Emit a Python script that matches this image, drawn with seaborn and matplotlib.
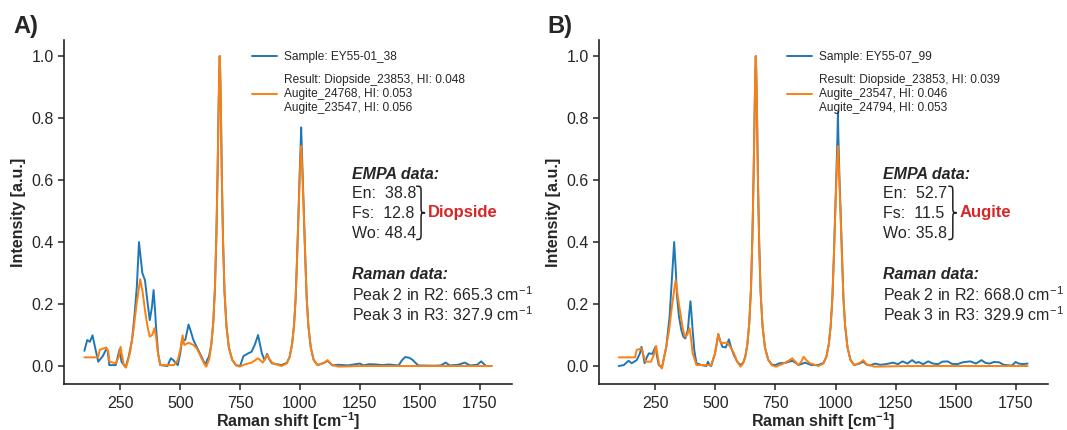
import numpy as np
import pandas as pd
import matplotlib
matplotlib.use("Agg")
import matplotlib.pyplot as plt
from matplotlib.path import Path
from matplotlib.patches import PathPatch
import seaborn as sns

# ---------------- data ----------------
A_SAMPLE_X = [100, 112, 123, 134, 147, 158, 177, 191, 197, 204, 231, 247, 255, 272, 285, 299, 310, 319, 328, 335,
              342, 353, 363, 373, 382, 389, 395, 400, 408, 417, 447, 455, 461, 470, 477, 490, 500, 508, 521, 535,
              545, 555, 570, 582, 595, 605, 613, 620,
              630, 638, 645, 651, 656, 660, 663, 665, 667, 670, 674, 679, 685, 693, 703, 717, 733,
              750, 764, 784, 798, 812, 825, 833, 841, 852, 863, 873, 883, 923, 945,
              957, 967, 975, 982, 988, 994, 999, 1003, 1005, 1007, 1011, 1016, 1022, 1028, 1035, 1045, 1057, 1073,
              1100, 1115, 1135, 1160, 1200, 1250, 1265,
              1290, 1317, 1345, 1371, 1412, 1425, 1439, 1455, 1470, 1493, 1560, 1588, 1608, 1625, 1660, 1688, 1709,
              1740, 1756, 1777, 1800]
A_SAMPLE_Y = [0.049, 0.084, 0.078, 0.099, 0.052, 0.014, 0.032, 0.054, 0.052, 0.003, 0.003, 0.054, 0.014, -0.004,
              0.03, 0.084, 0.17, 0.256, 0.40, 0.35, 0.30, 0.277, 0.21, 0.148, 0.19, 0.245, 0.18, 0.116, 0.04, 0.003,
              0.0, 0.015, 0.025, 0.02, 0.014, 0.003, 0.04, 0.084, 0.084, 0.134, 0.11, 0.084, 0.06, 0.041, 0.02, 0.004,
              0.02, 0.03,
              0.07, 0.14, 0.25, 0.42, 0.62, 0.82, 0.95, 1.0, 0.95, 0.82, 0.6, 0.4, 0.24, 0.13, 0.06, 0.02, 0.003,
              0.0, 0.032, 0.041, 0.046, 0.07, 0.10, 0.07, 0.041, 0.019, 0.039, 0.02, 0.009, 0.003, 0.01,
              0.03, 0.07, 0.13, 0.22, 0.35, 0.5, 0.63, 0.72, 0.77, 0.72, 0.62, 0.5, 0.35, 0.22, 0.13, 0.06, 0.02, 0.003,
              0.01, 0.017, 0.002, 0.004, 0.002, 0.008, 0.002,
              0.006, 0.005, 0.003, 0.005, 0.002, 0.018, 0.029, 0.027, 0.02, 0.002, 0.001, 0.002, 0.011, 0.002,
              0.004, 0.011, 0.002, 0.004, 0.015, 0.0, 0.0]

A_REF_X = [100, 157, 164, 191, 200, 205, 231, 244, 251, 258, 265, 274, 290, 305, 318, 333, 343, 353, 363, 373, 383,
           393, 400, 407, 417, 474, 490, 500, 510, 517, 535, 555, 569, 580, 589, 600, 609, 616, 622,
           630, 638, 645, 651, 656, 660, 663, 665, 667, 670, 674, 679, 685, 693, 703, 717, 733,
           748, 770, 798, 825, 845, 863, 875, 886, 923, 945,
           957, 967, 975, 982, 988, 994, 999, 1003, 1005, 1007, 1011, 1016, 1022, 1028, 1035, 1045, 1057, 1073,
           1100, 1115, 1135, 1162, 1250, 1400, 1600, 1800]
A_REF_Y = [0.028, 0.028, 0.052, 0.06, 0.046, 0.014, 0.009, 0.03, 0.062, 0.03, 0.003, -0.005, 0.04, 0.116, 0.2, 0.28,
           0.24, 0.18, 0.13, 0.095, 0.1, 0.122, 0.09, 0.041, 0.003, 0.003, 0.019, 0.05, 0.099, 0.068, 0.075, 0.068,
           0.057, 0.04, 0.025, 0.008, -0.002, 0.012, 0.025,
           0.07, 0.14, 0.25, 0.42, 0.62, 0.82, 0.95, 1.0, 0.95, 0.82, 0.6, 0.4, 0.24, 0.13, 0.06, 0.02, 0.002,
           -0.002, 0.005, 0.011, 0.025, 0.011, 0.035, 0.02, 0.009, 0.0, 0.008,
           0.03, 0.07, 0.13, 0.22, 0.35, 0.49, 0.61, 0.68, 0.71, 0.68, 0.6, 0.49, 0.35, 0.22, 0.13, 0.06, 0.02, 0.003,
           0.01, 0.019, 0.003, -0.002, 0.0, 0.0, 0.0, 0.0]

B_SAMPLE_X = [97, 118, 138, 151, 172, 185, 192, 198, 205, 215, 223, 237, 250, 257, 264, 277, 295, 309, 320, 328, 334,
              340, 348, 358, 366, 374, 385, 391, 396, 400, 405, 412, 421, 442, 462, 469, 475, 482, 498, 512, 520,
              529, 543, 556, 565, 577, 590, 604, 615, 624,
              633, 641, 648, 654, 659, 663, 666, 668, 670, 673, 677, 682, 688, 696, 706, 720, 736,
              750, 766, 790, 820, 835, 846, 873, 900, 927, 950,
              962, 972, 980, 987, 993, 999, 1004, 1008, 1010, 1012, 1016, 1021, 1027, 1033, 1040, 1050, 1062, 1078,
              1100, 1116, 1130, 1144, 1165, 1185, 1210, 1239, 1260, 1279,
              1300, 1319, 1335, 1346, 1365, 1386, 1405, 1427, 1445, 1467, 1485, 1507, 1530, 1561, 1585, 1608, 1625,
              1642, 1660, 1682, 1700, 1723, 1736, 1750, 1763, 1780, 1800]
B_SAMPLE_Y = [0.0, 0.003, 0.017, 0.009, 0.019, 0.04, 0.062, 0.04, 0.009, 0.03, 0.041, 0.039, 0.062, 0.03, 0.003,
              -0.004, 0.06, 0.16, 0.3, 0.40, 0.32, 0.224, 0.16, 0.116, 0.095, 0.089, 0.116, 0.17, 0.209, 0.17, 0.116,
              0.05, 0.009, 0.003, 0.0, 0.014, 0.003, 0.0, 0.04, 0.103, 0.08, 0.062, 0.06, 0.086, 0.06, 0.035, 0.015,
              0.003, 0.01, 0.03,
              0.07, 0.14, 0.25, 0.42, 0.62, 0.82, 0.95, 1.0, 0.95, 0.82, 0.6, 0.4, 0.24, 0.13, 0.06, 0.02, 0.004,
              0.003, 0.009, 0.01, 0.017, 0.01, 0.003, 0.011, 0.003, 0.003, 0.01,
              0.03, 0.07, 0.13, 0.22, 0.35, 0.5, 0.63, 0.74, 0.82, 0.74, 0.62, 0.5, 0.35, 0.22, 0.13, 0.06, 0.02, 0.003,
              0.008, 0.014, 0.004, 0.002, 0.008, 0.004, 0.006, 0.011, 0.006, 0.015,
              0.008, 0.019, 0.01, 0.013, 0.006, 0.015, 0.008, 0.006, 0.014, 0.015, 0.007, 0.006, 0.012,
              0.015, 0.008, 0.019, 0.01, 0.008, 0.013, 0.012, 0.004, 0.002, 0.002, 0.013, 0.008, 0.006, 0.008]

B_REF_X = [97, 165, 172, 192, 200, 209, 232, 245, 253, 260, 266, 277, 292, 307, 320, 334, 344, 354, 363, 372, 382,
           392, 398, 405, 421, 482, 498, 512, 518, 525, 538, 550, 563, 577, 590, 604, 615, 624,
           633, 641, 648, 654, 659, 663, 666, 668, 670, 673, 677, 682, 688, 696, 706, 720, 736,
           752, 775, 800, 820, 835, 846, 858, 867, 880, 894, 929, 950,
           962, 972, 980, 987, 993, 999, 1004, 1008, 1010, 1012, 1016, 1021, 1027, 1033, 1040, 1050, 1062, 1078,
           1100, 1116, 1130, 1143, 1160, 1300, 1500, 1800]
B_REF_Y = [0.028, 0.028, 0.052, 0.057, 0.035, 0.014, 0.014, 0.04, 0.065, 0.03, 0.003, -0.008, 0.05, 0.116, 0.2,
           0.277, 0.22, 0.17, 0.125, 0.095, 0.1, 0.122, 0.09, 0.041, 0.003, 0.003, 0.04, 0.103, 0.085, 0.073, 0.075,
           0.075, 0.06, 0.041, 0.015, -0.002, 0.008, 0.028,
           0.07, 0.14, 0.25, 0.42, 0.62, 0.82, 0.95, 1.0, 0.95, 0.82, 0.6, 0.4, 0.24, 0.13, 0.06, 0.02, 0.002,
           -0.002, 0.005, 0.015, 0.025, 0.012, 0.003, 0.015, 0.03, 0.018, 0.009, 0.0, 0.008,
           0.03, 0.07, 0.13, 0.22, 0.35, 0.49, 0.61, 0.68, 0.71, 0.68, 0.6, 0.49, 0.35, 0.22, 0.13, 0.06, 0.02, 0.003,
           0.01, 0.019, 0.005, 0.003, -0.002, 0.0, 0.0, 0.0]

X_TICKS = [250, 500, 750, 1000, 1250, 1500, 1750]
Y_TICKS = [0.0, 0.2, 0.4, 0.6, 0.8, 1.0]

PANELS = ["A)", "B)"]
SAMPLE_LABELS = ["Sample: EY55-01_38", "Sample: EY55-07_99"]
RESULT_LABELS = ["Result: Diopside_23853, HI: 0.048\nAugite_24768, HI: 0.053\nAugite_23547, HI: 0.056",
                 "Result: Diopside_23853, HI: 0.039\nAugite_23547, HI: 0.046\nAugite_24794, HI: 0.053"]
EMPA_EN = ["38.8", "52.7"]
EMPA_FS = ["12.8", "11.5"]
EMPA_WO = ["48.4", "35.8"]
CLASSES = ["Diopside", "Augite"]
PEAK2 = ["665.3", "668.0"]
PEAK3 = ["327.9", "329.9"]

# ---------------- styling ----------------
sns.set_theme(style="ticks")
plt.rcParams["font.family"] = ["Liberation Sans", "DejaVu Sans"]
plt.rcParams["mathtext.fontset"] = "custom"
plt.rcParams["mathtext.rm"] = "Liberation Sans"
plt.rcParams["mathtext.it"] = "Liberation Sans:italic"
plt.rcParams["mathtext.bf"] = "Liberation Sans:bold"

BLUE = "#1f77b4"
ORANGE = "#ff7f0e"
RED = "#d62728"

fig = plt.figure(figsize=(10.67, 4.30), dpi=100)
axA = fig.add_axes([64 / 1067, 46 / 430, 448 / 1067, 344 / 430])
axB = fig.add_axes([599 / 1067, 46 / 430, 449 / 1067, 344 / 430])

data = [(A_SAMPLE_X, A_SAMPLE_Y, A_REF_X, A_REF_Y), (B_SAMPLE_X, B_SAMPLE_Y, B_REF_X, B_REF_Y)]
text_x = [0.643, 0.633]
brace_x = [(0.786, 0.797, 0.806), (0.778, 0.788, 0.797)]
class_x = [0.812, 0.802]


def draw_brace(ax, x0, x1, x2, yt, ym, yb, r=0.022):
    verts = [(x0, yt), (x1, yt), (x1, yt), (x1, yt - r),
             (x1, ym + r),
             (x1, ym), (x1, ym), (x2, ym),
             (x1, ym), (x1, ym), (x1, ym - r),
             (x1, yb + r),
             (x1, yb), (x1, yb), (x0, yb)]
    codes = [Path.MOVETO, Path.CURVE4, Path.CURVE4, Path.CURVE4,
             Path.LINETO,
             Path.CURVE4, Path.CURVE4, Path.CURVE4,
             Path.CURVE4, Path.CURVE4, Path.CURVE4,
             Path.LINETO,
             Path.CURVE4, Path.CURVE4, Path.CURVE4]
    patch = PathPatch(Path(verts, codes), transform=ax.transAxes, fill=False,
                      edgecolor="#222222", linewidth=1.1, clip_on=False)
    ax.add_patch(patch)


FS = 11.5
for i, ax in enumerate([axA, axB]):
    sx, sy, rx, ry = data[i]
    sns.lineplot(x=sx, y=sy, ax=ax, color=BLUE, linewidth=1.4, label=SAMPLE_LABELS[i], sort=False)
    sns.lineplot(x=rx, y=ry, ax=ax, color=ORANGE, linewidth=1.4, label=RESULT_LABELS[i], sort=False)
    ax.set_xticks(X_TICKS)
    ax.set_yticks(Y_TICKS)
    ax.set_xlim(15, 1885)
    ax.set_ylim(-0.058, 1.052)
    ax.tick_params(labelsize=FS, length=4, width=1.1, color="#222222")
    ax.tick_params(axis="x", pad=5)
    for s in ["left", "bottom"]:
        ax.spines[s].set_linewidth(1.2)
        ax.spines[s].set_color("#222222")
    sns.despine(ax=ax)
    ax.set_xlabel("Raman shift [cm$^{\\mathbf{-1}}$]", fontsize=FS, fontweight="bold", labelpad=-1)
    ax.set_ylabel("Intensity [a.u.]", fontsize=FS, fontweight="bold", labelpad=4)
    leg = ax.legend(loc="upper left", bbox_to_anchor=(0.395, 1.0), frameon=False, fontsize=8.6,
                    handlelength=2.1, handletextpad=0.6, labelspacing=0.95)

    tx = text_x[i]
    ax.text(tx, 0.610, "EMPA data:", transform=ax.transAxes, fontsize=FS, fontweight="bold",
            fontstyle="italic", va="center", ha="left")
    ax.text(tx, 0.554, "En:  " + EMPA_EN[i], transform=ax.transAxes, fontsize=FS, va="center")
    ax.text(tx, 0.496, "Fs:  " + EMPA_FS[i], transform=ax.transAxes, fontsize=FS, va="center")
    ax.text(tx, 0.438, "Wo: " + EMPA_WO[i], transform=ax.transAxes, fontsize=FS, va="center")
    bx0, bx1, bx2 = brace_x[i]
    draw_brace(ax, bx0, bx1, bx2, 0.575, 0.498, 0.420)
    ax.text(class_x[i], 0.500, CLASSES[i], transform=ax.transAxes, fontsize=FS + 0.5,
            fontweight="bold", color=RED, va="center")
    ax.text(tx, 0.317, "Raman data:", transform=ax.transAxes, fontsize=FS, fontweight="bold",
            fontstyle="italic", va="center")
    ax.text(tx, 0.259, "Peak 2 in R2: " + PEAK2[i] + " cm$^{-1}$", transform=ax.transAxes,
            fontsize=FS, va="center", clip_on=False)
    ax.text(tx, 0.203, "Peak 3 in R3: " + PEAK3[i] + " cm$^{-1}$", transform=ax.transAxes,
            fontsize=FS, va="center", clip_on=False)

fig.text(13 / 1067, 1 - 26 / 430, PANELS[0], fontsize=17, fontweight="bold", va="center", ha="left")
fig.text(547 / 1067, 1 - 26 / 430, PANELS[1], fontsize=17, fontweight="bold", va="center", ha="left")

fig.savefig("out.png", dpi=100)
